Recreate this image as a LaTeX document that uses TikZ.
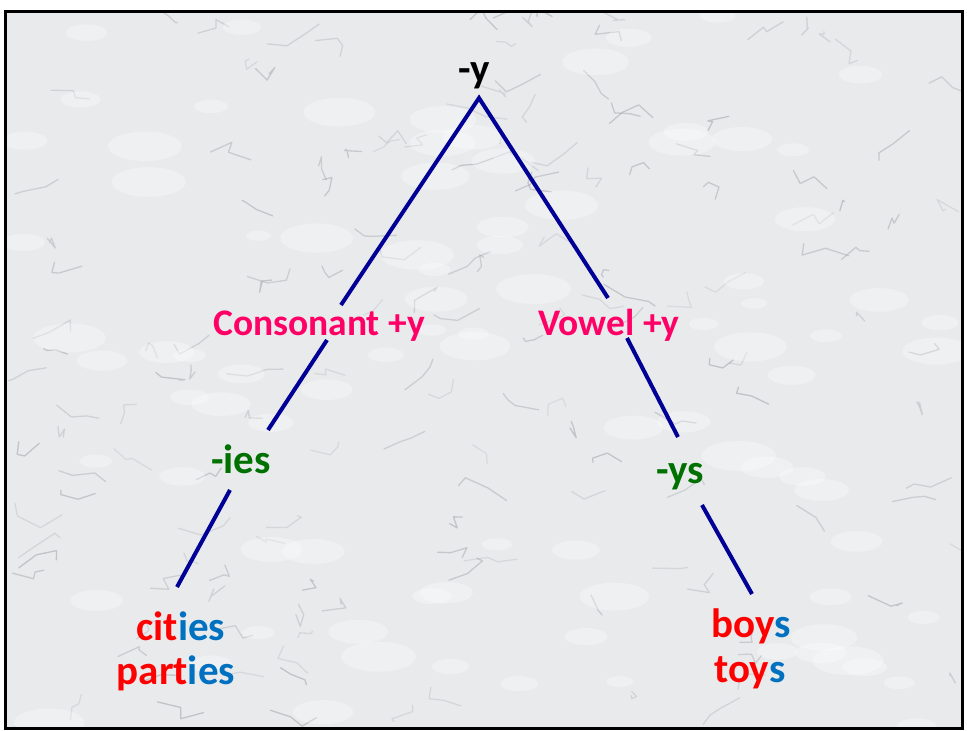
\documentclass[tikz,border=0pt]{standalone}
\usepackage{fontspec}
\setmainfont{Carlito}
\usetikzlibrary{calc}
\definecolor{marble}{RGB}{233,234,236}
\definecolor{vein}{RGB}{160,162,168}
\definecolor{navyline}{RGB}{0,0,150}
\definecolor{pinktxt}{RGB}{255,0,102}
\definecolor{greentxt}{RGB}{0,112,0}
\definecolor{redtxt}{RGB}{255,0,0}
\definecolor{bluetxt}{RGB}{0,112,192}
\tikzset{
  branch/.style={draw=navyline,line width=4pt},
  lbl/.style={font=\bfseries\fontsize{41}{45}\selectfont,inner sep=0pt,anchor=base},
  cond/.style={lbl,font=\bfseries\fontsize{37.5}{42}\selectfont,text=pinktxt},
  suffix/.style={lbl,text=greentxt},
  word/.style={lbl,text=redtxt},
}
\newcommand{\sfx}[1]{\textcolor{bluetxt}{#1}}
\begin{document}
\begin{tikzpicture}[x=1pt,y=-1pt]
\useasboundingbox (0,0) rectangle (967,731);
% background
\fill[marble] (5.5,11.5) rectangle (962,728);
\begin{scope}
\clip (5.5,11.5) rectangle (962,728);
\pgfmathsetseed{11}
\foreach \i in {1,...,160}{
  \pgfmathsetmacro{\xa}{rnd*960}
  \pgfmathsetmacro{\ya}{rnd*730}
  \pgfmathsetmacro{\xb}{\xa+(rnd-0.2)*30}
  \pgfmathsetmacro{\yb}{\ya+(rnd-0.5)*26}
  \pgfmathsetmacro{\xc}{\xb+(rnd-0.2)*30}
  \pgfmathsetmacro{\yc}{\yb+(rnd-0.5)*26}
  \pgfmathsetmacro{\xd}{\xc+(rnd-0.2)*30}
  \pgfmathsetmacro{\yd}{\yc+(rnd-0.5)*26}
  \pgfmathsetmacro{\op}{0.2+rnd*0.35}
  \draw[vein,line width=1.3pt,opacity=\op,line cap=round,line join=round]
    (\xa,\ya) -- (\xb,\yb) -- (\xc,\yc) -- (\xd,\yd);
}
\foreach \i in {1,...,90}{
  \pgfmathsetmacro{\xa}{rnd*960}
  \pgfmathsetmacro{\ya}{rnd*730}
  \pgfmathsetmacro{\r}{5+rnd*10}
  \fill[white,opacity=0.3] (\xa,\ya) ellipse ({\r*2.5} and \r);
}
\end{scope}
\draw[black,line width=3pt] (5.5,11.5) rectangle (962,728);

% labels
\node[lbl] (top) at (474,82) {-y};
\node[cond] (cons) at (319,335) {Consonant +y};
\node[cond] (vow) at (609,335) {Vowel +y};
\node[suffix] (ies) at (241,473) {-ies};
\node[suffix] (ys) at (680,483) {-ys};
\node[word] (w1) at (181,640) {cit\sfx{ies}};
\node[word] (w2) at (176,684) {part\sfx{ies}};
\node[word] (w3) at (751,637) {boy\sfx{s}};
\node[word] (w4) at (750,682) {toy\sfx{s}};

% branch coordinates
\coordinate (apex) at (479,98);
\coordinate (l1) at (341,305);
\coordinate (l2a) at (327,340);
\coordinate (l2b) at (268,430);
\coordinate (l3a) at (230,490);
\coordinate (l3b) at (177,587);
\coordinate (r1) at (608,298);
\coordinate (r2a) at (627,338);
\coordinate (r2b) at (678,437);
\coordinate (r3a) at (702,505);
\coordinate (r3b) at (752,594);

\draw[branch] (l1) -- (apex) -- (r1);
\draw[branch] (l2a) -- (l2b);
\draw[branch] (l3a) -- (l3b);
\draw[branch] (r2a) -- (r2b);
\draw[branch] (r3a) -- (r3b);
\end{tikzpicture}
\end{document}
